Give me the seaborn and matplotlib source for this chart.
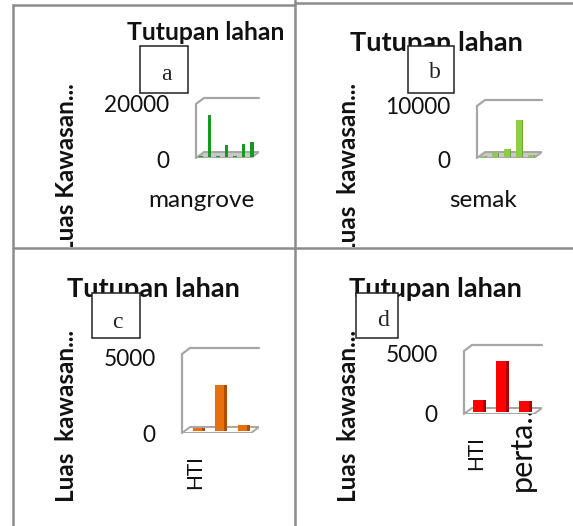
import matplotlib
matplotlib.use('Agg')
import matplotlib.pyplot as plt
from matplotlib.lines import Line2D
from matplotlib.patches import Polygon, Rectangle
from matplotlib.transforms import Bbox, ScaledTranslation
import seaborn as sns

W, H = 573, 526

# nilai
vals_a = [300, 15600, 300, 4400, 300, 5000, 5500]
vals_b = [200, 750, 1500, 7100, 300]
vals_c = [200, 3100, 400]
vals_d = [1000, 4300, 900]

labels_a = ['mangrove', '', '', '', '', '', '']
labels_b = ['semak', '', '', '', '']
labels_c = ['HTI', '', '']
labels_d = ['HTI', '', 'perta...']

ymax_a, ymax_b, ymax_c, ymax_d = 20000, 10000, 5000, 5000

sns.set_theme(style='white')
plt.rcParams['font.family'] = ['Lato', 'DejaVu Sans']

fig = plt.figure(figsize=(W / 100, H / 100), dpi=100)


def px_x(x):
    return x / W


def px_y(y):
    return 1 - y / H


def panel(vals, labels, ymax, color, dark, box, x0, step, zero_px, tick_px, wid,
          depth, rot, floor_fill, ylabel, ylab_x, ylab_top, title, title_xy, title_size,
          letter, letter_box, letter_xy, clip_bottom=None):
    left, top, right, bottom = box
    ax = fig.add_axes([px_x(left), px_y(bottom), (right - left) / W, (bottom - top) / H])
    ax.patch.set_alpha(0)

    # escala: zero_px = posisi nol, tick_px = posisi ymax
    per_px = ymax / (zero_px - tick_px)

    sns.barplot(x=list(range(len(vals))), y=vals, color=color, width=wid, saturation=1, ax=ax,
                native_scale=True, zorder=3, linewidth=0, edgecolor='none')

    # sisi gelap batang
    bars = [p for p in ax.patches if isinstance(p, Rectangle)]
    dx = depth / step
    if depth > 0:
        for b in bars:
            ax.add_patch(Rectangle((b.get_x() + b.get_width(), 0), dx, b.get_height(),
                                   facecolor=dark, edgecolor='none', zorder=2.9))

    # lantai dan dinding belakang (kesan 3D)
    sl = 8
    fl = 6
    gray = '#a6a6a6'
    tf = ax.transAxes
    fx = sl / (right - left)
    fy = fl / (bottom - top)
    ax.add_patch(Polygon([(0, 0), (1 - fx, 0), (1, fy), (fx, fy)], closed=True, transform=tf,
                         facecolor=floor_fill, edgecolor=gray, lw=1.4, zorder=1))
    wy = 1 - fl / (bottom - top)
    ax.plot([0, 0, fx, 1], [0, wy, 1, 1], color=gray, lw=1.6, transform=tf, clip_on=False, zorder=1)

    ax.set_xlim((left - x0) / step, (right - x0) / step)
    ax.set_ylim(-(bottom - zero_px) * per_px, (zero_px - top) * per_px)
    for s in ax.spines.values():
        s.set_visible(False)
    ax.set_yticks([0, ymax])
    ax.set_yticklabels(['0', str(ymax)], fontsize=16.3, color='#111111')
    ax.tick_params(axis='y', length=0, pad=19)
    lab0 = ax.get_yticklabels()[0]
    lab0.set_transform(lab0.get_transform() + ScaledTranslation(0, -2 / 100, fig.dpi_scale_trans))
    ax.set_xticks(list(range(len(vals))))
    ax.set_xticklabels(labels, rotation=rot, color='#111111', ha='center', va='top' if rot == 0 else 'center')
    ax.tick_params(axis='x', length=0, pad=23 if rot == 0 else 30)
    for lab in ax.get_xticklabels():
        if rot == 0:
            lab.set_fontsize(17.5)
        elif lab.get_text().startswith('perta'):
            lab.set_fontsize(22)
            lab.set_transform(lab.get_transform() + ScaledTranslation(-2 / 100, 11 / 100, fig.dpi_scale_trans))
        else:
            lab.set_fontsize(15)
            lab.set_transform(lab.get_transform() + ScaledTranslation(-2 / 100, 3 / 100, fig.dpi_scale_trans))
    ax.set_xlabel('')

    yl = fig.text(px_x(ylab_x), px_y(ylab_top), ylabel, rotation=90, fontsize=17.5, fontweight='bold',
                  ha='center', va='top', color='#111111', zorder=1)
    if clip_bottom:
        yl.set_clip_box(Bbox([[0, (H - clip_bottom)], [W, H]]))
        yl.set_clip_on(True)
    fig.text(px_x(title_xy[0]), px_y(title_xy[1]), title, fontsize=title_size, fontweight='bold',
             ha='center', va='center', color='#111111', zorder=2)

    # kotak huruf panel
    bl, bt, br, bb = letter_box
    fig.add_artist(Rectangle((px_x(bl), px_y(bb)), (br - bl) / W, (bb - bt) / H, facecolor='white',
                             edgecolor='#222222', lw=1.1, transform=fig.transFigure, zorder=5))
    fig.text(px_x(letter_xy[0]), px_y(letter_xy[1]), letter, fontsize=17, family='Liberation Serif',
             ha='center', va='center', color='#222222', zorder=6)
    return ax


panel(vals_a, labels_a, ymax_a, '#149a1e', '#0d7a16', (196, 98, 259, 158), 201, 8.5, 157, 103, 0.47,
      0, 0, '#c8c8c8', 'Luas Kawasan...', 66, 83, 'Tutupan lahan', (206, 32), 17.8,
      'a', (140, 46, 188, 93), (166, 75), clip_bottom=247)
panel(vals_b, labels_b, ymax_b, '#8bcf45', '#6aa82e', (477, 100, 542, 158), 483, 12, 157, 105, 0.42,
      1.5, 0, '#c8c8c8', 'Luas  kawasan...', 349, 83, 'Tutupan lahan', (436, 43), 19.6,
      'b', (408, 46, 454, 93), (435, 73), clip_bottom=247)
panel(vals_c, labels_c, ymax_c, '#e8700c', '#a94f06', (182, 348, 259, 433), 197, 22.5, 431, 357, 0.4,
      3, 90, 'white', 'Luas  kawasan...', 66, 330, 'Tutupan lahan', (153, 289), 19.6,
      'c', (92, 293, 140, 338), (117, 322))
panel(vals_d, labels_d, ymax_d, '#ff0000', '#a80000', (464, 345, 542, 414), 478, 23, 412, 353, 0.4,
      3, 90, 'white', 'Luas  kawasan...', 349, 330, 'Tutupan lahan', (435, 289), 19.6,
      'd', (356, 293, 398, 338), (383, 321))

# garis tabel
line_c = '#8c8c8c'
for xs, ys in [([13, 13], [5, 526]), ([13, 295], [5, 5]), ([295, 573], [3, 3]),
               ([295, 295], [0, 526]), ([13, 573], [248, 248])]:
    fig.add_artist(Line2D([px_x(x) for x in xs], [px_y(y) for y in ys], color=line_c, lw=1.8, zorder=4))

fig.savefig('out.png', dpi=100)
